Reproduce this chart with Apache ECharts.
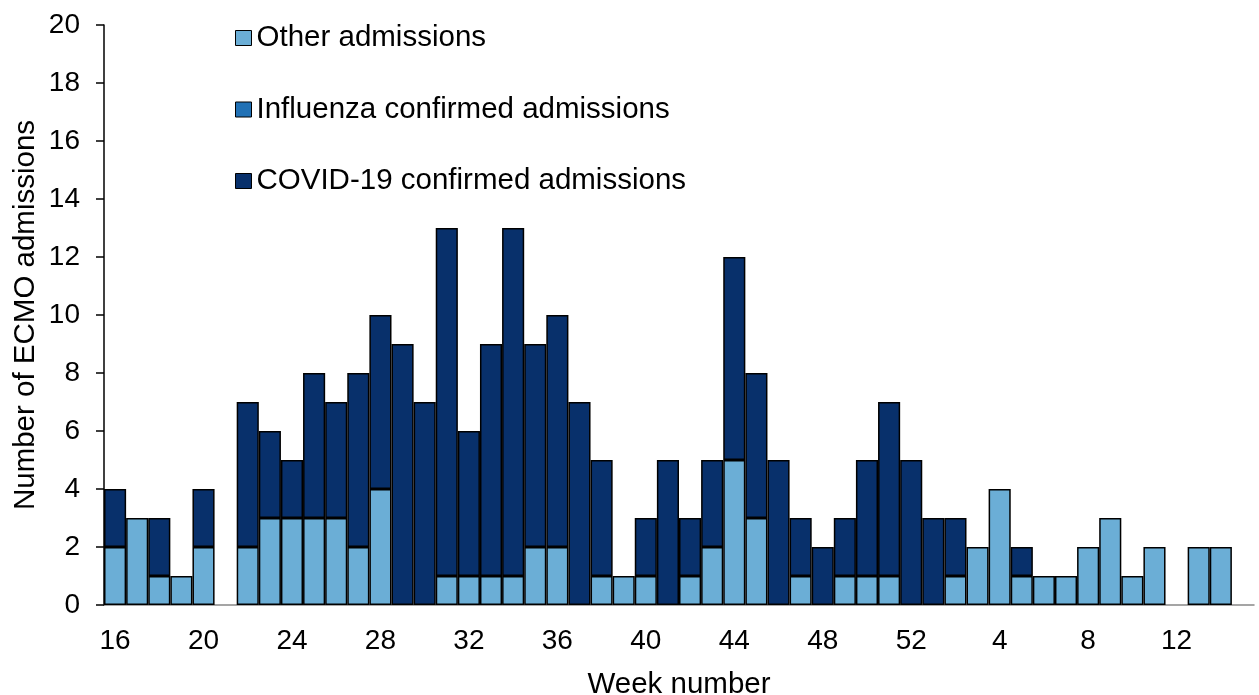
<!DOCTYPE html>
<html>
<head>
<meta charset="utf-8">
<script src="https://cdn.jsdelivr.net/npm/echarts@6/dist/echarts.min.js"></script>
<style>html,body{margin:0;padding:0;background:#fff}#c{width:1259px;height:695px}</style>
</head>
<body>
<div id="c"></div>
<script>
const weeks = ['16','17','18','19','20','21','22','23','24','25','26','27','28','29','30','31','32','33','34','35','36','37','38','39','40','41','42','43','44','45','46','47','48','49','50','51','52','1','2','3','4','5','6','7','8','9','10','11','12','13','14','15'];
const otherAdmissions = [2,3,1,1,2,0,2,3,3,3,3,2,4,0,0,1,1,1,1,2,2,0,1,1,1,0,1,2,5,3,0,1,0,1,1,1,0,0,1,2,4,1,1,1,2,3,1,2,0,2,2,0];
const influenzaAdmissions = [0,0,0,0,0,0,0,0,0,0,0,0,0,0,0,0,0,0,0,0,0,0,0,0,0,0,0,0,0,0,0,0,0,0,0,0,0,0,0,0,0,0,0,0,0,0,0,0,0,0,0,0];
const covidAdmissions = [2,0,2,0,2,0,5,3,2,5,4,6,6,9,7,12,5,8,12,7,8,7,4,0,2,5,2,3,7,5,5,2,2,2,4,6,5,3,2,0,0,1,0,0,0,0,0,0,0,0,0,0];
const seriesNames = ['Other admissions','Influenza confirmed admissions','COVID-19 confirmed admissions'];
const seriesColors = ['#6BAED6','#2171B5','#08306B'];

const F = 'Liberation Sans, Arial, sans-serif';
const FS = 28;
const FN = 29.5;
const nz = a => a.map(v => v === 0 ? null : v);
const chart = echarts.init(document.getElementById('c'));
const mk = (i, data) => ({
  name: seriesNames[i], type: 'bar', stack: 'all', data: nz(data),
  barCategoryGap: 0,
  itemStyle: { color: seriesColors[i], borderColor: '#000', borderWidth: 1.5 }
});
chart.setOption({
  animation: false,
  textStyle: { fontFamily: F },
  grid: { left: 104, right: 5, top: 25, bottom: 90, containLabel: false, outerBoundsMode: 'none' },
  legend: {
    orient: 'vertical', left: 230, top: 18, itemGap: 41.5,
    itemWidth: 16, itemHeight: 15,
    icon: 'rect',
    data: seriesNames.map((n, i) => ({ name: n, itemStyle: { color: seriesColors[i], borderColor: '#000', borderWidth: 1 } })),
    textStyle: { fontSize: FN, color: '#000', fontFamily: F }
  },
  xAxis: {
    type: 'category', data: weeks,
    name: 'Week number', nameLocation: 'middle', nameGap: 65,
    nameTextStyle: { fontSize: FN, color: '#000', fontFamily: F },
    axisLine: { lineStyle: { color: '#888', width: 1.5 } },
    axisTick: { interval: 0, length: 8, lineStyle: { color: '#000', width: 1.5 } },
    axisLabel: { interval: 3, fontSize: FS, color: '#000', margin: 22, fontFamily: F }
  },
  yAxis: {
    type: 'value', min: 0, max: 20, interval: 2,
    name: 'Number of ECMO admissions', nameLocation: 'middle', nameGap: 63,
    nameMoveOverlap: false,
    nameTextStyle: { fontSize: FN, color: '#000', fontFamily: F },
    axisLine: { show: true, lineStyle: { color: '#000', width: 1.5 } },
    axisTick: { show: true, length: 8, lineStyle: { color: '#000', width: 1.5 } },
    splitLine: { show: false },
    axisLabel: { fontSize: FS, color: '#000', margin: 24, fontFamily: F }
  },
  series: [mk(0, otherAdmissions), mk(1, influenzaAdmissions), mk(2, covidAdmissions)]
});
</script>
</body>
</html>
